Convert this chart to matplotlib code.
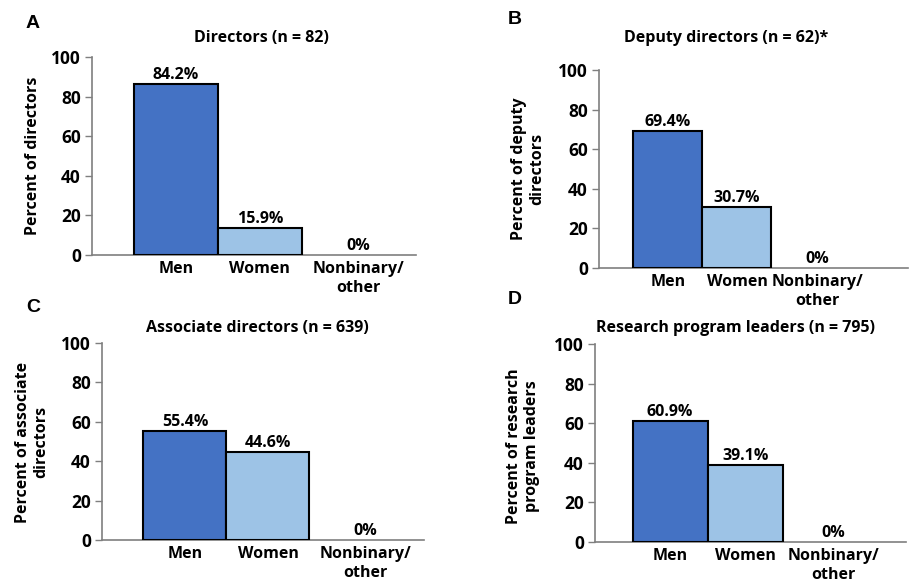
import numpy as np
import matplotlib

matplotlib.use('Agg')
import matplotlib.pyplot as plt

plt.rcParams['font.family'] = ['Open Sans', 'DejaVu Sans']
plt.rcParams['font.weight'] = 'bold'

categories = ['Men', 'Women', 'Nonbinary/\nother']
colors = ['#4472C4', '#9DC3E6', '#FFFFFF']

panel_letters = ['A', 'B', 'C', 'D']
titles = ['Directors (n = 82)', 'Deputy directors (n = 62)*',
          'Associate directors (n = 639)', 'Research program leaders (n = 795)']
ylabels = ['Percent of directors', 'Percent of deputy\ndirectors',
           'Percent of associate\ndirectors', 'Percent of research\nprogram leaders']

# bar heights as drawn in the figure
directors = [86.5, 13.5, 0]
deputy = [69.4, 30.7, 0]
associate = [55.4, 44.6, 0]
leaders = [60.9, 39.1, 0]

# printed labels
directors_lbl = ['84.2%', '15.9%', '0%']
deputy_lbl = ['69.4%', '30.7%', '0%']
associate_lbl = ['55.4%', '44.6%', '0%']
leaders_lbl = ['60.9%', '39.1%', '0%']

W, H = 913, 583
fig = plt.figure(figsize=(W / 100, H / 100), dpi=100)


def px_axes(left, right, top, bottom):
    return fig.add_axes([left / W, 1 - bottom / H, (right - left) / W, (bottom - top) / H])


# (left, right, top, bottom) in pixels, xmax, title pos, ylabel pos, letter pos
panels = [
    ((92, 416, 57, 255), 2.86, (261, 38), (33, 156), (33, 23), directors, directors_lbl),
    ((599, 908, 70, 268), 3.48, (726, 38), (528, 169), (515, 20), deputy, deputy_lbl),
    ((102, 424, 343, 540), 2.88, (257, 328), (32, 442), (33, 307), associate, associate_lbl),
    ((595, 906, 344, 542), 3.14, (735, 328), (523, 446), (515, 300), leaders, leaders_lbl),
]

x = np.array([0, 1, 2.17])
fs = 11.5

for i, (box, xmax, tpos, ypos, lpos, vals, lbls) in enumerate(panels):
    ax = px_axes(*box)
    ax.bar(x[:2], vals[:2], width=1.0, color=colors[:2], edgecolor='black', linewidth=1.5, zorder=3)
    for xi, v, t in zip(x, vals, lbls):
        ax.text(xi, v + 0.5, t, ha='center', va='bottom', fontsize=fs, fontweight='bold')
    ax.set_xlim(-1, xmax)
    ax.set_ylim(0, 100)
    ax.set_yticks([0, 20, 40, 60, 80, 100])
    ax.set_xticks(x)
    ax.set_xticklabels(categories, fontsize=fs, fontweight='bold', linespacing=1.3)
    ax.tick_params(axis='x', length=0, pad=4)
    ax.tick_params(axis='y', length=5, width=1, color='#7f7f7f', labelsize=12.5, pad=3)
    for lab in ax.get_yticklabels():
        lab.set_fontweight('bold')
    for s in ['top', 'right']:
        ax.spines[s].set_visible(False)
    for s in ['left', 'bottom']:
        ax.spines[s].set_color('#7f7f7f')
        ax.spines[s].set_linewidth(1.2)

    fig.text(tpos[0] / W, 1 - tpos[1] / H, titles[i], ha='center', va='center',
             fontsize=fs, fontweight='bold')
    fig.text(ypos[0] / W, 1 - ypos[1] / H, ylabels[i], ha='center', va='center',
             rotation=90, fontsize=fs, fontweight='bold', multialignment='center', linespacing=1.15)
    fig.text(lpos[0] / W, 1 - lpos[1] / H, panel_letters[i], ha='center', va='center',
             fontsize=14, fontweight='bold', family='Liberation Sans')

fig.savefig('out.png', dpi=100)
